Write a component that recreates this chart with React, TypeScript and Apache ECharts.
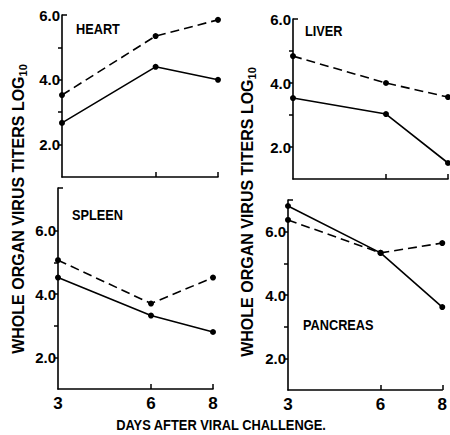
import React, { useEffect, useRef } from "react";
import * as echarts from "echarts";

const days = [3, 6, 8];
const panels = ["HEART", "LIVER", "SPLEEN", "PANCREAS"];
const dashedValues = [
  [3.53, 5.35, 5.85],
  [4.84, 4.0, 3.56],
  [5.07, 3.7, 4.52],
  [6.37, 5.33, 5.64],
];
const solidValues = [
  [2.67, 4.4, 4.0],
  [3.53, 3.03, 1.5],
  [4.52, 3.32, 2.8],
  [6.81, 5.33, 3.62],
];
const yMax = [6, 6, 7.35, 7];
const yTickValues = [
  [2, 3, 4, 5],
  [2, 3, 4, 5],
  [2, 3, 4, 5, 6],
  [2, 3, 4, 5, 6],
];
const yLabelValues = [2, 4, 6];
const xLabelValues = [3, 6, 8];
const yTitle = "WHOLE ORGAN VIRUS TITERS LOG";
const yTitleSub = "10";
const xTitle = "DAYS AFTER VIRAL CHALLENGE.";

const grids = [
  { left: 62, top: 15, width: 156, height: 162 },
  { left: 293, top: 19, width: 155, height: 160 },
  { left: 58, top: 188, width: 155, height: 201 },
  { left: 288, top: 200, width: 155, height: 190 },
];
const labelPos = [
  [76, 29],
  [305, 31],
  [72, 215],
  [303, 325],
];

const SANS = "'Liberation Sans', Arial, sans-serif";

export default function App() {
  const ref = useRef<HTMLDivElement>(null);
  useEffect(() => {
    if (!ref.current) return;
    const chart = echarts.init(ref.current, undefined, { renderer: "svg" });
    const xAxis: any[] = [];
    const yAxis: any[] = [];
    const series: any[] = [];
    grids.forEach((g, i) => {
      const bottomRow = i >= 2;
      xAxis.push({
        type: "value",
        gridIndex: i,
        min: 3,
        max: 8,
        axisLine: { show: true, lineStyle: { color: "#000", width: 1.6 } },
        axisTick: { show: true, inside: true, length: 5, customValues: [6, 8], lineStyle: { color: "#000", width: 1.5 } },
        axisLabel: {
          show: bottomRow,
          customValues: xLabelValues,
          margin: 6,
          color: "#000",
          fontSize: 17,
          fontWeight: "bold",
          fontFamily: SANS,
        },
        splitLine: { show: false },
      });
      yAxis.push({
        type: "value",
        gridIndex: i,
        position: "left",
        min: 1,
        max: yMax[i],
        axisLine: { show: true, lineStyle: { color: "#000", width: 1.6 } },
        axisTick: { show: true, inside: false, length: 4, customValues: yTickValues[i], lineStyle: { color: "#000", width: 1.5 } },
        axisLabel: {
          show: true,
          customValues: yLabelValues,
          formatter: (v: number) => v.toFixed(1),
          margin: 2,
          color: "#000",
          fontSize: 15,
          fontWeight: "bold",
          fontFamily: SANS,
        },
        splitLine: { show: false },
      });
      yAxis.push({
        type: "value",
        gridIndex: i,
        position: "left",
        min: 1,
        max: yMax[i],
        axisLine: { show: false },
        axisTick: { show: true, inside: true, length: 5, customValues: [yMax[i]], lineStyle: { color: "#000", width: 1.5 } },
        axisLabel: { show: false },
        splitLine: { show: false },
      });
      series.push({
        type: "line",
        xAxisIndex: i,
        yAxisIndex: 2 * i,
        data: days.map((d, k) => [d, dashedValues[i][k]]),
        symbol: "circle",
        symbolSize: 6,
        itemStyle: { color: "#000" },
        lineStyle: { color: "#000", width: 1.6, type: [9, 5] },
        z: 3,
      });
      series.push({
        type: "line",
        xAxisIndex: i,
        yAxisIndex: 2 * i,
        data: days.map((d, k) => [d, solidValues[i][k]]),
        symbol: "circle",
        symbolSize: 6,
        itemStyle: { color: "#000" },
        lineStyle: { color: "#000", width: 1.6 },
        z: 3,
      });
    });

    const graphic: any[] = panels.map((p, i) => ({
      type: "text",
      x: labelPos[i][0],
      y: labelPos[i][1],
      scaleX: 0.85,
      style: {
        text: p,
        fill: "#000",
        font: `bold 15px ${SANS}`,
        textAlign: "left",
        textVerticalAlign: "middle",
      },
    }));
    [[18, 209], [247, 212]].forEach(([x, y]) => {
      graphic.push({
        type: "text",
        x,
        y,
        rotation: Math.PI / 2,
        style: {
          text: `{m|${yTitle}}{s|${yTitleSub}}`,
          fill: "#000",
          textAlign: "center",
          textVerticalAlign: "middle",
          rich: {
            m: { fontSize: 16, fontWeight: "bold", fontFamily: SANS, lineHeight: 20, fill: "#000" },
            s: { fontSize: 11, fontWeight: "bold", fontFamily: SANS, lineHeight: 11, verticalAlign: "bottom", fill: "#000" },
          },
        },
      });
    });
    graphic.push({
      type: "text",
      x: 221,
      y: 425,
      scaleX: 0.92,
      style: {
        text: xTitle,
        fill: "#000",
        font: `bold 14px ${SANS}`,
        textAlign: "center",
        textVerticalAlign: "middle",
      },
    });

    chart.setOption({
      animation: false,
      backgroundColor: "#fff",
      grid: grids.map((g) => ({ ...g })),
      xAxis,
      yAxis,
      series,
      graphic,
    });
    return () => chart.dispose();
  }, []);
  return (
    <div
      ref={ref}
      style={{ position: "fixed", left: 0, top: 0, width: 450, height: 435 }}
    />
  );
}
